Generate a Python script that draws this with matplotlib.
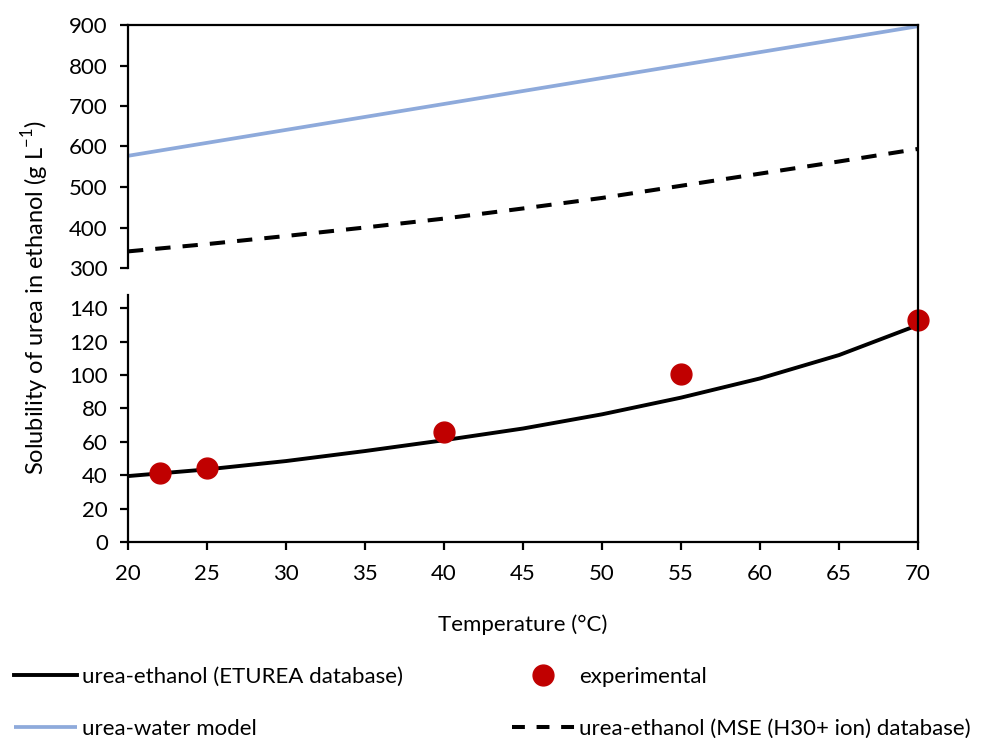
import matplotlib
matplotlib.use("Agg")
import matplotlib.pyplot as plt
from matplotlib.lines import Line2D

plt.rcParams['font.family'] = ['Lato', 'DejaVu Sans']

# ---- data ----
temp_model = [20, 25, 30, 35, 40, 45, 50, 55, 60, 65, 70]
eturea = [39.5, 43.5, 48.5, 54.5, 61, 68, 76.5, 86.5, 98, 112, 130]
mse = [341, 359, 379, 400, 422, 447, 473, 503, 533, 563, 594]
temp_water = [20, 30, 40, 50, 60, 70]
water = [577, 641, 705, 769, 833, 897]
temp_exp = [22, 25, 40, 55, 70]
exp_vals = [41.2, 44.2, 65.9, 100.7, 132.9]
xticks = [20, 25, 30, 35, 40, 45, 50, 55, 60, 65, 70]
yticks_top = [300, 400, 500, 600, 700, 800, 900]
yticks_bot = [0, 20, 40, 60, 80, 100, 120, 140]

W, H = 984, 738
fig = plt.figure(figsize=(W / 100, H / 100), dpi=100)

L = 128 / W
R = 918 / W
top_b = 1 - 268 / H
top_t = 1 - 25 / H
bot_b = 1 - 542 / H
bot_t = 1 - 295 / H

FS = 16
SPW = 1.6
BLUE = '#8eaadb'
RED = '#c00000'

# right spine spanning both panels
axr = fig.add_axes([L, bot_b, R - L, top_t - bot_b], zorder=5)
axr.patch.set_visible(False)
for s in ['left', 'top', 'bottom']:
    axr.spines[s].set_visible(False)
axr.spines['right'].set_linewidth(SPW)
axr.set_xticks([])
axr.set_yticks([])

axt = fig.add_axes([L, top_b, R - L, top_t - top_b])
axb = fig.add_axes([L, bot_b, R - L, bot_t - bot_b])

# top panel
l_water, = axt.plot(temp_water, water, color=BLUE, lw=2.7, solid_capstyle='butt')
l_mse, = axt.plot(temp_model, mse, color='black', lw=2.9, dashes=(3.8, 3.0))
axt.set_xlim(20, 70)
axt.set_ylim(300, 900)
axt.set_yticks(yticks_top)
axt.set_xticks([])
axt.spines['bottom'].set_visible(False)
axt.spines['right'].set_visible(False)
for s in ['left', 'top']:
    axt.spines[s].set_linewidth(SPW)
axt.tick_params(axis='y', direction='out', length=5.5, width=SPW, pad=9, labelsize=FS)

# bottom panel
l_et, = axb.plot(temp_model, eturea, color='black', lw=2.8)
l_exp, = axb.plot(temp_exp, exp_vals, 'o', color=RED, ms=15, mec=RED, clip_on=False, zorder=3)
axb.set_xlim(20, 70)
axb.set_ylim(0, 148)
axb.set_yticks(yticks_bot)
axb.set_xticks(xticks)
axb.spines['top'].set_visible(False)
axb.spines['right'].set_visible(False)
for s in ['left', 'bottom']:
    axb.spines[s].set_linewidth(SPW)
axb.tick_params(axis='y', direction='out', length=5.5, width=SPW, pad=9, labelsize=FS)
axb.tick_params(axis='x', direction='out', length=5.5, width=SPW, pad=10, labelsize=FS)
axb.set_xlabel('Temperature (°C)', fontsize=FS, labelpad=22)

fig.text(35 / W, 1 - 298 / H, 'Solubility of urea in ethanol (g L$^{\\mathregular{-1}}$)',
         rotation=90, ha='center', va='center', fontsize=17)

mse_handle = Line2D([], [], color='black', lw=2.9, dashes=(3.2, 2.9))
handles = [l_et, l_water, l_exp, mse_handle]
labels = ['urea-ethanol (ETUREA database)', 'urea-water model', 'experimental',
          'urea-ethanol (MSE (H30+ ion) database)']
leg = fig.legend(handles, labels, ncol=2, loc='upper left',
                 bbox_to_anchor=(14 / W, 1 - 667 / H), frameon=False, fontsize=FS,
                 handlelength=2.85, handletextpad=0.2, columnspacing=4.9,
                 labelspacing=1.42, numpoints=1, borderpad=0, borderaxespad=0)

fig.savefig('out.png', dpi=100)
